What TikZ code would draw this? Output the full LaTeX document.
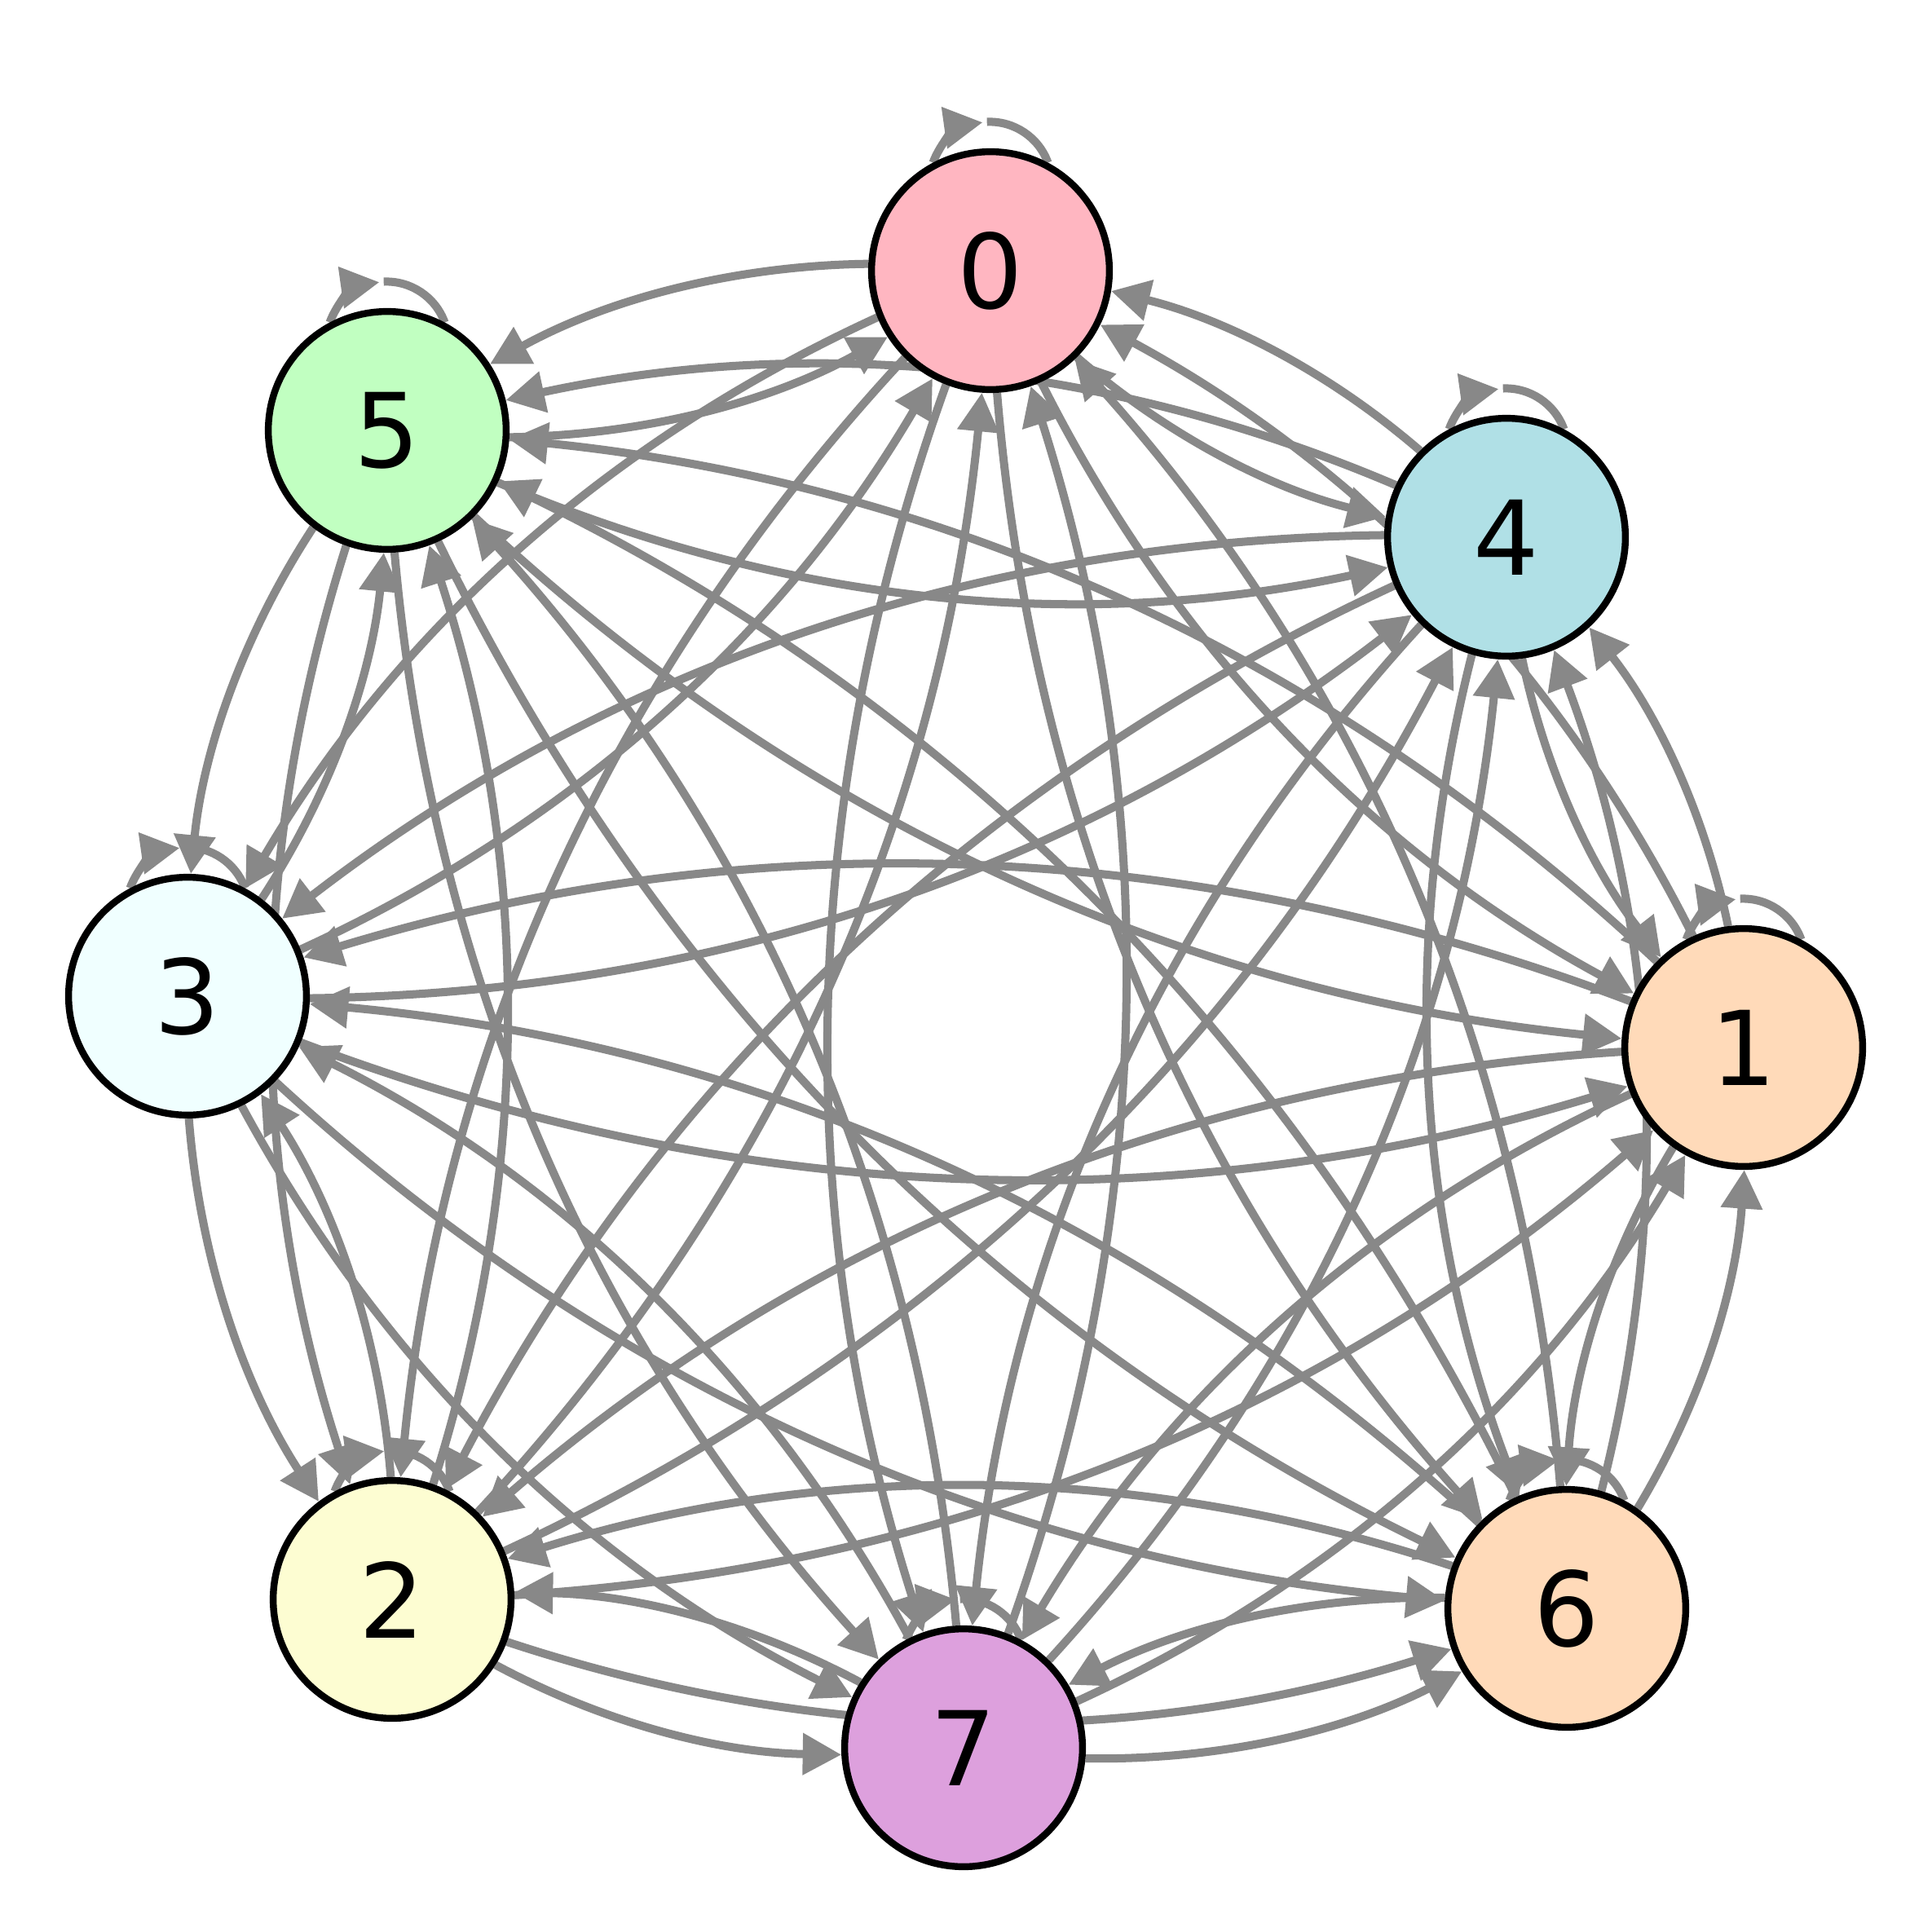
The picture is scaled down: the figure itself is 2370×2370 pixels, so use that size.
\documentclass[tikz,border=0pt]{standalone}
\usepackage{fontspec}
\setmainfont{DejaVu Sans}
\usetikzlibrary{arrows.meta, calc, backgrounds}

\definecolor{edgegray}{RGB}{136,136,136}
\definecolor{pink0}{RGB}{255,182,193}
\definecolor{peach1}{RGB}{255,218,185}
\definecolor{cream2}{RGB}{253,253,210}
\definecolor{azure3}{RGB}{240,255,255}
\definecolor{powder4}{RGB}{176,224,230}
\definecolor{mint5}{RGB}{193,255,193}
\definecolor{peach6}{RGB}{255,218,185}
\definecolor{plum7}{RGB}{221,160,221}

\begin{document}
\begin{tikzpicture}[
    x=0.01cm, y=-0.01cm,
    vertex/.style={circle, draw=black, line width=2.4pt, fill=#1, minimum size=2.916cm,
                   inner sep=0pt, font=\fontsize{36}{40}\selectfont},
    conn/.style={-{Triangle[length=13.5pt, width=14pt]}, edgegray, line width=2.85pt,
                 to path={let \p1=($(\tikztotarget)-(\tikztostart)$),
                              \n1={veclen(\x1,\y1)}, \n2={42.68/\n1},
                              \n3={\n2/sqrt(1+0.16*(1-\n2)*(1-\n2))},
                              \n4={atan(0.4*(1-\n3))},
                              \n5={atan2(0.13333*(1-\n3+\n3*\n3),(1+\n3)/3)},
                              \n6={veclen((1+\n3)/3,0.13333*(1-\n3+\n3*\n3))*\n1} in
                          ($(\tikztostart)!1.5cm!-\n4:(\tikztotarget)$)
                          .. controls ($(\tikztostart)!\n6!-\n5:(\tikztotarget)$)
                          and ($(\tikztotarget)!\n6!\n5:(\tikztostart)$)
                          .. ($(\tikztotarget)!1.5cm!\n4:(\tikztostart)$)}},
    loopline/.style={edgegray, line width=2.85pt},
]
\useasboundingbox (0,0) rectangle (2370,2370);

% ── Vertices ──
\node[vertex=pink0]   (n0) at (1215,332)  {0};
\node[vertex=peach1]  (n1) at (2139,1285) {1};
\node[vertex=cream2]  (n2) at (481,1962)  {2};
\node[vertex=azure3]  (n3) at (230,1222)  {3};
\node[vertex=powder4] (n4) at (1848,659)  {4};
\node[vertex=mint5]   (n5) at (475,528)   {5};
\node[vertex=peach6]  (n6) at (1922,1973) {6};
\node[vertex=plum7]   (n7) at (1182,2144) {7};

\begin{scope}[on background layer]
% ── Arcs between vertices ──
\path[conn] (n0) edge (n1) edge (n2) edge (n3) edge (n4) edge (n5) edge (n6) edge (n7);
\path[conn] (n1) edge (n0) edge (n2) edge (n3) edge (n4) edge (n5) edge (n6) edge (n7);
\path[conn] (n2) edge (n0) edge (n1) edge (n3) edge (n4) edge (n5) edge (n6) edge (n7);
\path[conn] (n3) edge (n0) edge (n1) edge (n2) edge (n4) edge (n5) edge (n6) edge (n7);
\path[conn] (n4) edge (n0) edge (n1) edge (n2) edge (n3) edge (n5) edge (n6) edge (n7);
\path[conn] (n5) edge (n0) edge (n1) edge (n2) edge (n3) edge (n4) edge (n6) edge (n7);
\path[conn] (n6) edge (n0) edge (n1) edge (n2) edge (n3) edge (n4) edge (n5) edge (n7);
\path[conn] (n7) edge (n0) edge (n1) edge (n2) edge (n3) edge (n4) edge (n5) edge (n6);

% ── Self-loops ──
\foreach \v in {0,...,7}{
  \draw[conn] (n\v.118) arc[start angle=160, end angle=98, radius=0.76cm];
  \draw[loopline] (n\v.62) arc[start angle=20, end angle=92.5, radius=0.76cm];
}
\end{scope}

\end{tikzpicture}
\end{document}
